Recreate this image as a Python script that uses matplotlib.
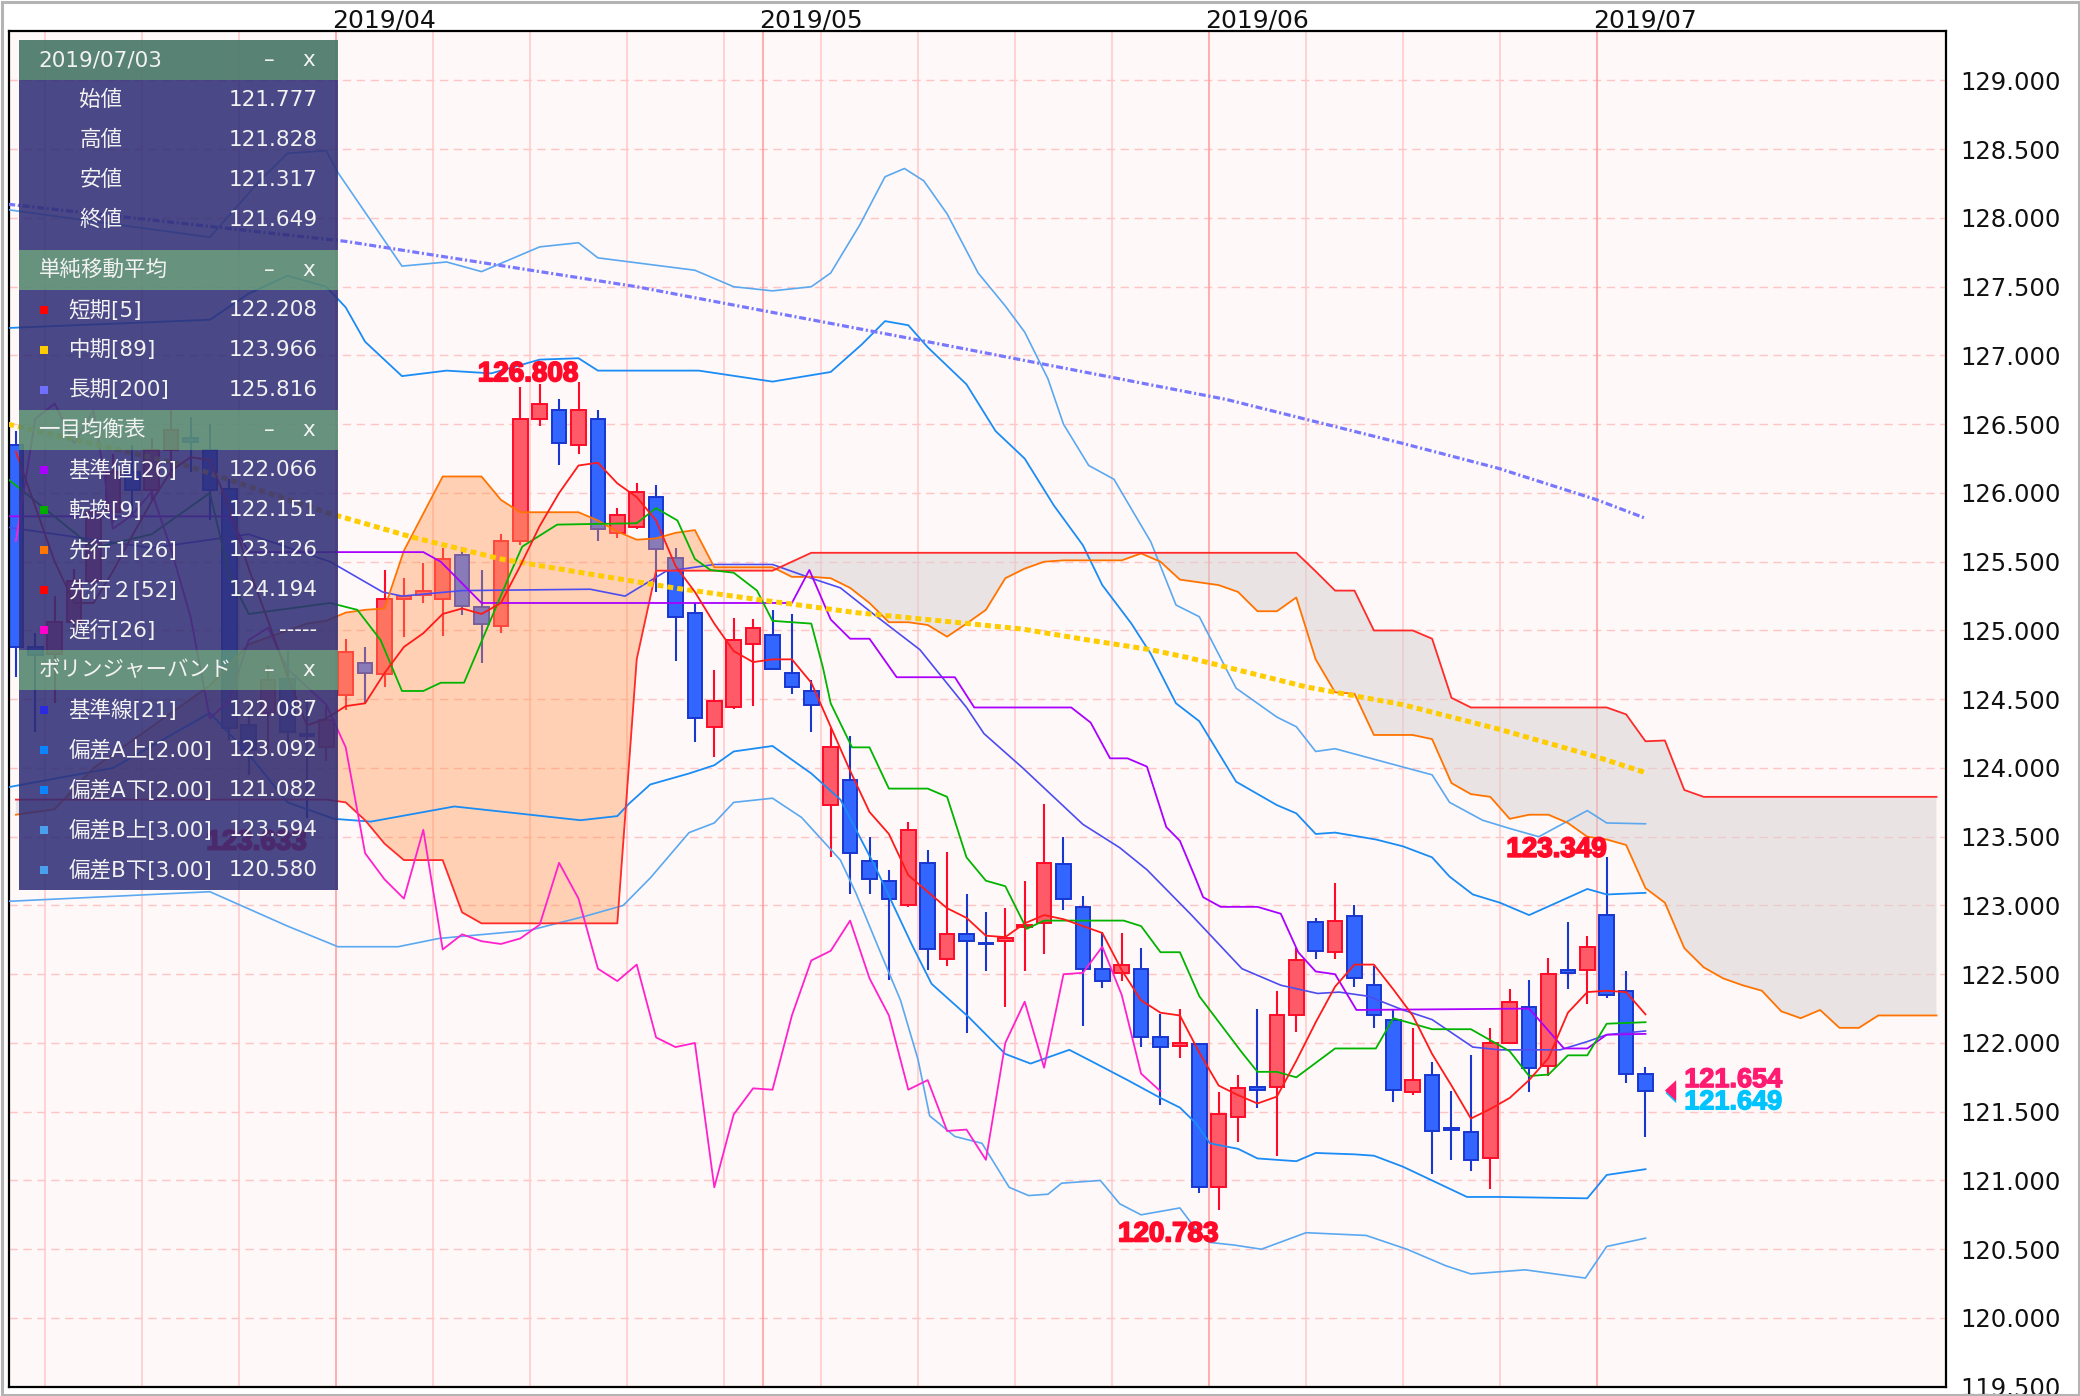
import numpy as np
import matplotlib
matplotlib.use("Agg")
import matplotlib.pyplot as plt
from matplotlib import patheffects
from matplotlib.patches import Rectangle, Polygon

plt.rcParams['font.family'] = ['DejaVu Sans', 'Noto Sans CJK JP']

# ---------------------------------------------------------------- data
# trading day index: 0 = 2019/03/11 (Mon), 82 = 2019/07/03
days = np.arange(-2, 83)

opens = [126.35, 124.88, 124.83, 125.06, 125.36, 125.86, 126.15, 126.02, 126.31, 126.40,
         126.31, 126.03, 124.31, 124.40, 124.65, 124.25, 124.15,
         124.53, 124.76, 124.68, 125.23, 125.26, 125.23, 125.55, 125.17, 125.03, 125.65,
         126.54, 126.60, 126.35, 126.54, 125.71, 125.75, 125.97, 125.53, 125.13, 124.30,
         124.44, 124.90, 124.97, 124.69, 124.56, 123.73, 123.91, 123.32, 123.18, 123.00,
         123.31, 122.61, 122.79, 122.73, 122.74, 122.84, 122.87, 123.30, 122.99, 122.54,
         122.51, 122.54, 122.04, 121.98, 121.99, 120.95, 121.46, 121.68, 121.68, 122.20,
         122.88, 122.66, 122.92, 122.42, 122.17, 121.64, 121.77, 121.38, 121.35, 121.16,
         122.00, 122.26, 121.83, 122.53, 122.53, 122.93, 122.38, 121.777]
highs = [126.45, 124.98, 125.25, 125.45, 125.95, 126.28, 126.35, 126.40, 126.60, 126.55,
         126.50, 126.10, 124.45, 124.75, 124.85, 124.50, 124.45,
         124.94, 124.88, 125.44, 125.38, 125.49, 125.60, 125.61, 125.44, 125.70, 126.77,
         126.79, 126.68, 126.808, 126.60, 125.89, 126.07, 126.06, 125.60, 125.20, 124.71,
         125.09, 125.08, 125.15, 125.12, 124.64, 124.29, 124.23, 123.50, 123.26, 123.61,
         123.40, 123.39, 123.08, 122.95, 122.98, 123.18, 123.74, 123.50, 123.07, 122.81,
         122.80, 122.69, 122.21, 122.25, 122.00, 121.64, 121.77, 122.25, 122.38, 122.69,
         122.91, 123.16, 123.00, 122.56, 122.24, 122.11, 121.86, 121.65, 121.91, 122.11,
         122.39, 122.46, 122.62, 122.88, 122.78, 123.349, 122.52, 121.828]
lows = [124.66, 124.26, 124.47, 124.95, 125.28, 125.78, 125.85, 125.95, 126.10, 126.15,
        125.80, 124.20, 123.95, 124.10, 124.10, 123.633, 124.05,
        124.42, 124.47, 124.59, 124.95, 125.20, 124.96, 125.11, 124.76, 124.98, 125.62,
        126.49, 126.20, 126.28, 125.65, 125.67, 125.74, 125.28, 124.78, 124.19, 124.08,
        124.43, 124.45, 124.71, 124.54, 124.26, 123.35, 123.08, 123.08, 122.46, 122.99,
        122.53, 122.56, 122.07, 122.52, 122.26, 122.52, 122.65, 122.97, 122.12, 122.40,
        122.45, 121.97, 121.55, 121.89, 120.91, 120.783, 121.28, 121.53, 121.18, 122.08,
        122.61, 122.61, 122.41, 122.11, 121.57, 121.62, 121.05, 121.15, 121.07, 120.94,
        121.99, 121.64, 121.76, 122.39, 122.28, 122.33, 121.71, 121.317]
closes = [124.88, 124.82, 125.06, 125.36, 125.86, 126.15, 126.02, 126.31, 126.46, 126.37,
          126.02, 124.29, 124.13, 124.64, 124.26, 124.23, 124.35,
          124.84, 124.69, 125.23, 125.25, 125.29, 125.52, 125.18, 125.05, 125.65, 126.54,
          126.65, 126.36, 126.60, 125.74, 125.84, 126.01, 125.59, 125.10, 124.36, 124.49,
          124.93, 125.02, 124.72, 124.59, 124.46, 124.15, 123.38, 123.19, 123.05, 123.55,
          122.68, 122.79, 122.74, 122.72, 122.76, 122.86, 123.31, 123.05, 122.54, 122.45,
          122.57, 122.04, 121.97, 122.00, 120.95, 121.48, 121.67, 121.66, 122.20, 122.60,
          122.67, 122.89, 122.47, 122.20, 121.66, 121.73, 121.36, 121.37, 121.15, 122.00,
          122.30, 121.82, 122.50, 122.51, 122.70, 122.35, 121.777, 121.649]

sma5 = [126.30, 125.90, 125.50, 125.20, 125.20, 125.43, 125.69, 125.94, 126.16, 126.26,
        126.24, 125.89, 125.45, 125.07, 124.67, 124.31, 124.36,
        124.45, 124.47, 124.69, 124.88, 124.98, 125.12, 125.16, 125.12, 125.20, 125.47,
        125.76, 126.00, 126.20, 126.22, 126.07, 125.97, 125.80, 125.47, 125.28, 125.05,
        124.85, 124.77, 124.79, 124.79, 124.62, 124.30, 123.98, 123.68, 123.52, 123.22,
        123.10, 122.98, 122.91, 122.78, 122.77, 122.87, 122.93, 122.90, 122.85, 122.80,
        122.53, 122.31, 122.22, 122.20, 121.93, 121.69, 121.62, 121.56, 121.61, 121.87,
        122.15, 122.41, 122.57, 122.57, 122.39, 122.20, 121.92, 121.69, 121.45, 121.52,
        121.60, 121.73, 121.89, 122.22, 122.37, 122.38, 122.37, 122.208]

sma89_x = [-2.4, 6.8, 14.2, 18.4, 23, 27.6, 31.9, 36.5, 41.3, 46.4, 49.9, 53.3, 56.5,
           58.5, 64.5, 69.5, 74.5, 79.5, 82]
sma89_y = [126.5, 126.2, 125.85, 125.68, 125.52, 125.41, 125.31, 125.22, 125.13, 125.06,
           125.01, 124.93, 124.86, 124.80, 124.59, 124.46, 124.28, 124.08, 123.966]

sma200_x = [-2.4, 15, 30, 45, 60.4, 69.5, 74.4, 79.5, 82]
sma200_y = [128.1, 127.83, 127.5, 127.1, 126.68, 126.36, 126.18, 125.95, 125.816]

bbm_x = [-2.4, 5, 10, 14.2, 16.9, 17.9, 21, 27.6, 29.4, 31.5, 34, 37, 39, 40.5, 42.2,
         44.6, 47, 47.9, 49.9, 53, 54.9, 56.3, 58.6, 61.2, 63.2, 65.1, 66.2, 67.7, 69.5,
         71, 73.1, 74.5, 77.6, 79, 80, 82]
bbm_y = [125.75, 125.6, 125.7, 125.5, 125.28, 125.25, 125.29, 125.3, 125.25, 125.43,
         125.48, 125.48, 125.38, 125.31, 125.12, 124.86, 124.44, 124.25, 124.0, 123.59,
         123.42, 123.26, 122.93, 122.54, 122.42, 122.36, 122.37, 122.34, 122.24, 122.17,
         121.97, 121.95, 121.95, 122.01, 122.06, 122.087]

bbu2_x = [-2.4, 8, 10, 12, 14, 15, 16, 17.9, 20.2, 22.5, 25, 27, 28, 33.2, 37, 40, 41.6,
          42.8, 44, 45, 47, 48.5, 50, 51.5, 53, 54, 55.5, 56.5, 57.8, 59, 60.9, 63, 64,
          65, 66, 68.1, 69.5, 71, 71.9, 73.1, 74.5, 76, 79, 80, 82]
bbu2_y = [127.2, 127.26, 127.45, 127.58, 127.5, 127.35, 127.1, 126.85, 126.89, 126.87,
          126.97, 126.98, 126.89, 126.89, 126.81, 126.88, 127.08, 127.25, 127.22, 127.06,
          126.79, 126.45, 126.25, 125.91, 125.62, 125.33, 125.05, 124.83, 124.47, 124.34,
          123.9, 123.73, 123.67, 123.52, 123.53, 123.48, 123.43, 123.35, 123.21, 123.08,
          123.02, 122.93, 123.12, 123.08, 123.092]

bbl2_x = [-2.4, 3, 8, 10, 12, 14.4, 16.3, 20.6, 27.1, 29, 29.6, 30.7, 32.7, 34, 35, 37,
          39, 40.5, 42.3, 44.2, 45.2, 47.1, 49, 50.3, 52.3, 53.4, 55.3, 57, 58, 58.8,
          59.55, 61, 62, 64, 65, 67, 68, 69.5, 71, 72.8, 74.5, 79, 80, 82]
bbl2_y = [123.86, 124.0, 124.4, 124.1, 123.75, 123.63, 123.61, 123.72, 123.62, 123.65,
          123.74, 123.88, 123.96, 124.02, 124.12, 124.16, 123.96, 123.77, 123.28, 122.71,
          122.43, 122.19, 121.92, 121.85, 121.95, 121.87, 121.73, 121.6, 121.53, 121.42,
          121.27, 121.23, 121.16, 121.14, 121.2, 121.19, 121.18, 121.1, 121.0, 120.88,
          120.88, 120.87, 121.04, 121.082]

bbu3_x = [-2.4, 8, 10.5, 12, 14, 14.6, 17.9, 20.2, 22, 25, 27, 28, 33, 35, 37, 39, 40,
          41.5, 42.8, 43.8, 44.8, 46, 47.6, 49, 50, 51.2, 52, 53.3, 54.6, 55.6, 56.5,
          57.8, 59, 60.9, 63, 64, 65, 66, 68.1, 71, 71.9, 73.6, 75, 76.5, 79, 80, 82]
bbu3_y = [128.06, 127.86, 128.26, 128.47, 128.49, 128.33, 127.65, 127.68, 127.61, 127.79,
          127.82, 127.71, 127.62, 127.5, 127.47, 127.5, 127.6, 127.95, 128.3, 128.36,
          128.27, 128.03, 127.6, 127.36, 127.17, 126.83, 126.5, 126.2, 126.1, 125.86,
          125.645, 125.185, 125.1, 124.58, 124.37, 124.3, 124.12, 124.14, 124.06, 123.95,
          123.75, 123.62, 123.56, 123.5, 123.69, 123.6, 123.594]

bbl3_x = [-2.4, 8, 12, 14.6, 17.7, 19.8, 24.5, 27.3, 29.3, 30.7, 32.7, 34, 35, 37, 38.5,
          40.5, 41.3, 42.5, 43.6, 44.5, 45.1, 46.4, 47.8, 49.2, 50.2, 51.2, 51.9, 53.9,
          54.9, 56, 58, 58.8, 59.5, 60.8, 62.2, 64.5, 67.6, 69.7, 71.7, 73, 75.8, 78.9,
          80, 82]
bbl3_y = [123.03, 123.1, 122.85, 122.7, 122.7, 122.76, 122.82, 122.92, 123.0, 123.2,
          123.53, 123.6, 123.75, 123.78, 123.64, 123.33, 123.09, 122.68, 122.31, 121.88,
          121.47, 121.32, 121.27, 120.95, 120.89, 120.9, 120.98, 121.0, 120.83, 120.75,
          120.8, 120.65, 120.55, 120.53, 120.5, 120.62, 120.6, 120.5, 120.38, 120.32,
          120.35, 120.29, 120.52, 120.58]

tenkan_x = [-2.4, 2, 5, 8, 9, 10, 14.2, 15.6, 16.8, 17.9, 19, 19.9, 21.1, 23.5, 24.1,
            25.9, 30, 31, 32.1, 33, 33.8, 35, 36.2, 37, 39, 39.6, 40, 41.1, 42, 43, 45,
            46, 47, 48, 49, 50.1, 51, 55.1, 56, 57, 58, 59, 61.2, 62, 63, 64, 66, 68.1,
            69, 71, 73, 75, 76, 77, 78, 79, 80, 82]
tenkan_y = [126.1, 125.6, 125.7, 126.0, 125.4, 125.12, 125.2, 125.15, 124.93, 124.56,
            124.56, 124.62, 124.62, 125.42, 125.61, 125.77, 125.78, 125.89, 125.8, 125.52,
            125.44, 125.42, 125.29, 125.07, 125.05, 124.73, 124.47, 124.15, 124.15, 123.85,
            123.85, 123.79, 123.35, 123.18, 123.14, 122.83, 122.89, 122.89, 122.85, 122.66,
            122.66, 122.34, 121.93, 121.79, 121.79, 121.75, 121.96, 121.96, 122.18, 122.1,
            122.1, 121.94, 121.76, 121.77, 121.91, 121.91, 122.14, 122.151]

kijun_x = [-2.4, 9, 10, 19, 19.9, 22, 38, 38.9, 40, 41, 42, 43.4, 46.4, 47.4, 52.4,
           53.4, 54.4, 55.3, 56.3, 57.3, 58, 58.8, 59.2, 60.1, 62, 63.2, 64.1, 65, 66,
           67.1, 76, 77.8, 79, 80, 82]
kijun_y = [125.83, 125.83, 125.57, 125.57, 125.5, 125.2, 125.2, 125.44, 125.08, 124.94,
           124.94, 124.66, 124.66, 124.44, 124.44, 124.33, 124.07, 124.07, 124.01, 123.57,
           123.47, 123.2, 123.06, 122.99, 122.99, 122.94, 122.66, 122.52, 122.5, 122.24,
           122.25, 121.96, 121.96, 122.06, 122.066]

# leading spans, one value per day from -2 to 97
span_days = np.arange(-2, 98)
senkou_a = [123.66, 123.68, 123.70, 123.85, 124.00, 124.10, 124.20, 124.30, 124.40, 124.50,
            124.60, 124.75, 124.90, 124.95, 125.00, 125.05, 125.07, 125.13, 125.15, 125.16,
            125.58, 125.85, 126.12, 126.12, 126.12, 125.95, 125.86, 125.86, 125.86, 125.86,
            125.80, 125.72, 125.66, 125.67, 125.71, 125.73, 125.46, 125.46, 125.46, 125.46,
            125.39, 125.39, 125.38, 125.31, 125.20, 125.06, 125.06, 125.04, 124.955, 125.05,
            125.15, 125.38, 125.45, 125.50, 125.51, 125.51, 125.51, 125.51, 125.56, 125.50,
            125.37, 125.35, 125.33, 125.28, 125.14, 125.14, 125.24, 124.79, 124.55, 124.54,
            124.24, 124.24, 124.24, 124.21, 123.89, 123.81, 123.79, 123.63, 123.66, 123.66,
            123.60, 123.50, 123.48, 123.44, 123.126, 123.02, 122.69, 122.55, 122.47, 122.42,
            122.38, 122.23, 122.18, 122.24, 122.11, 122.11, 122.20, 122.20, 122.20, 122.20]
senkou_b = [123.77, 123.77, 123.77, 123.77, 123.77, 123.77, 123.77, 123.77, 123.77, 123.77,
            123.77, 123.77, 123.77, 123.77, 123.77, 123.77, 123.77, 123.75, 123.62, 123.45,
            123.33, 123.33, 123.33, 122.95, 122.87, 122.87, 122.87, 122.87, 122.87, 122.87,
            122.87, 122.87, 124.79, 125.435, 125.435, 125.435, 125.435, 125.435, 125.435, 125.435,
            125.50, 125.565, 125.565, 125.565, 125.565, 125.565, 125.565, 125.565, 125.565, 125.565,
            125.565, 125.565, 125.565, 125.565, 125.565, 125.565, 125.565, 125.565, 125.565, 125.565,
            125.565, 125.565, 125.565, 125.565, 125.565, 125.565, 125.565, 125.43, 125.29, 125.29,
            125.00, 125.00, 125.00, 124.94, 124.51, 124.44, 124.44, 124.44, 124.44, 124.44,
            124.44, 124.44, 124.44, 124.39, 124.194, 124.20, 123.84, 123.79, 123.79, 123.79,
            123.79, 123.79, 123.79, 123.79, 123.79, 123.79, 123.79, 123.79, 123.79, 123.79]
chikou_shift = 25

month_lines = [14.5, 36.5, 59.5, 79.5]
month_labels = ['2019/04', '2019/05', '2019/06', '2019/07']
week_lines = [-0.5, 4.5, 9.5, 19.5, 24.5, 29.5, 34.5, 39.5, 44.5, 49.5, 54.5, 64.5, 69.5, 74.5]

peak_labels = [(27, 'high'), (80, 'high'), (60, 'low'), (13, 'low')]
last_bid, last_ask = 121.654, 121.649

panel_date = '2019/07/03'
ohlc_names = ['始値', '高値', '安値', '終値']
ohlc_vals = ['121.777', '121.828', '121.317', '121.649']
sections = [
    ('単純移動平均', [('#ff0000', '短期[5]', '122.208'),
                ('#ffcc00', '中期[89]', '123.966'),
                ('#7070ff', '長期[200]', '125.816')]),
    ('一目均衡表', [('#aa00ff', '基準値[26]', '122.066'),
               ('#00aa00', '転換[9]', '122.151'),
               ('#ff7700', '先行１[26]', '123.126'),
               ('#ff0000', '先行２[52]', '124.194'),
               ('#ff00cc', '遅行[26]', '-----')]),
    ('ボリンジャーバンド', [('#2a2ae0', '基準線[21]', '122.087'),
                   ('#0a84ff', '偏差A上[2.00]', '123.092'),
                   ('#0a84ff', '偏差A下[2.00]', '121.082'),
                   ('#4aa0ee', '偏差B上[3.00]', '123.594'),
                   ('#4aa0ee', '偏差B下[3.00]', '120.580')]),
]

# ---------------------------------------------------------------- figure
W, H = 2080, 1396
AX_L, AX_T, AX_R, AX_B = 9, 31, 1946, 1386.7
fig = plt.figure(figsize=(W / 100, H / 100), dpi=100)
fig.patch.set_facecolor('white')
ax = fig.add_axes([AX_L / W, 1 - AX_B / H, (AX_R - AX_L) / W, (AX_B - AX_T) / H])
ax.set_facecolor('#fff8f8')
ax.set_xlim(-2.356, 97.49)
ax.set_ylim(119.5, 129.36)
for s in ax.spines.values():
    s.set_linewidth(1.6)
    s.set_color('black')

# grid
for v in np.arange(120.0, 129.01, 0.5):
    ax.axhline(v, color='#ffc4c4', lw=1.0, ls=(0, (6, 4)), zorder=0)
for d in week_lines:
    ax.axvline(d, color='#ffc8c8', lw=1.1, zorder=0)
for d in month_lines:
    ax.axvline(d, color='#ff9a9a', lw=1.1, zorder=0)

ax.set_xticks([])
ax.yaxis.tick_right()
ax.set_yticks(np.arange(119.5, 129.01, 0.5))
ax.set_yticklabels(['%.3f' % v for v in np.arange(119.5, 129.01, 0.5)])
ax.tick_params(axis='y', length=0, pad=10, labelsize=17.5, labelcolor='#111111')

for d, lab in zip(month_lines, month_labels):
    ax.annotate(lab, xy=(d, 1.0), xycoords=('data', 'axes fraction'),
                xytext=(-2.5, 2.5), textcoords='offset points',
                ha='left', va='baseline', fontsize=18, color='#111111',
                annotation_clip=False)

# candles
o = np.array(opens); h = np.array(highs); l = np.array(lows); c = np.array(closes)
up = c >= o
fill = np.where(up, '#ff5a68', '#3366ff')
edge = np.where(up, '#ff0a28', '#1836d0')
ax.vlines(days, l, h, colors=edge, lw=1.5, zorder=2)
ax.bar(days, np.maximum(np.abs(c - o), 0.008), bottom=np.minimum(o, c), width=0.76,
       color=fill, edgecolor=edge, linewidth=1.4, zorder=2.5)

# cloud
sa = np.array(senkou_a); sb = np.array(senkou_b)
ax.fill_between(span_days, sa, sb, where=sa >= sb, interpolate=True,
                color='#ff9955', alpha=0.42, lw=0, zorder=3)
ax.fill_between(span_days, sa, sb, where=sa < sb, interpolate=True,
                color='#d6d0d0', alpha=0.5, lw=0, zorder=3)

# indicator lines
ax.plot(bbu3_x, bbu3_y, color='#5aa8f0', lw=1.2, zorder=4)
ax.plot(bbl3_x, bbl3_y, color='#5aa8f0', lw=1.2, zorder=4)
ax.plot(bbu2_x, bbu2_y, color='#1a8cf5', lw=1.3, zorder=4)
ax.plot(bbl2_x, bbl2_y, color='#1a8cf5', lw=1.3, zorder=4)
ax.plot(bbm_x, bbm_y, color='#4c4cf0', lw=1.2, zorder=4)
ax.plot(span_days, sa, color='#ff7300', lw=1.3, zorder=4)
ax.plot(span_days, sb, color='#ff2a2a', lw=1.3, zorder=4)
ax.plot(kijun_x, kijun_y, color='#aa00ff', lw=1.3, zorder=4)
ax.plot(tenkan_x, tenkan_y, color='#00b400', lw=1.3, zorder=4)
ax.plot(days[:-chikou_shift], c[chikou_shift:], color='#ff22cc', lw=1.3, zorder=4)
ax.plot(sma89_x, sma89_y, color='#ffcc00', lw=3.6, ls=(0, (1.2, 0.8)),
        dash_capstyle='butt', zorder=4.5)
ax.plot(sma200_x, sma200_y, color='#7878ff', lw=2.3, ls=(0, (2.2, 0.85, 0.65, 0.85)),
        dash_capstyle='butt', zorder=4.5)
ax.plot(days, sma5, color='#ff1a1a', lw=1.3, zorder=4.6)

# high / low labels
RED = '#ff0a28'
thick = [patheffects.withStroke(linewidth=1.3, foreground=RED)]
for d, kind in peak_labels:
    i = int(np.where(days == d)[0][0])
    if kind == 'high':
        ax.annotate('%.3f' % h[i], xy=(d, h[i]), xytext=(0, 0.5), textcoords='offset points',
                    ha='right', va='baseline', fontsize=20, fontweight='bold',
                    family='Liberation Sans', color=RED, path_effects=thick, zorder=6)
    else:
        ax.annotate('%.3f' % l[i], xy=(d, l[i]), xytext=(0, -8), textcoords='offset points',
                    ha='right', va='top', fontsize=20, fontweight='bold',
                    family='Liberation Sans', color=RED, path_effects=thick, zorder=6)

# last price markers
tip = days[-1] + 1.0
for price, col, dy in [(last_ask, '#00c4ff', -0.012), (last_bid, '#ff1a72', 0.0)]:
    ax.add_patch(Polygon([(tip + (0.03 if dy else 0), price + dy),
                          (tip + 0.58, price + dy + 0.075),
                          (tip + 0.58, price + dy - 0.075)],
                         closed=True, fc=col, ec='none', zorder=6))
for price, col, off in [(last_bid, '#ff1a72', 7.5), (last_ask, '#00c4ff', -8)]:
    ax.annotate('%.3f' % price, xy=(tip + 1.0, price), xytext=(0, off),
                textcoords='offset points', ha='left', va='center', fontsize=19.5,
                fontweight='bold', family='Liberation Sans', color=col,
                path_effects=[patheffects.withStroke(linewidth=1.0, foreground=col)],
                zorder=6)

# ---------------------------------------------------------------- info panel
pax = fig.add_axes([0, 0, 1, 1], zorder=10)
pax.set_xlim(0, W)
pax.set_ylim(H, 0)
pax.axis('off')
pax.patch.set_alpha(0)

PX0, PX1, ROW = 18.5, 338, 40
TXT = '#f2f2f2'
BODY = '#312f76'
FS = 15.5


def header(y, title, col):
    pax.add_patch(Rectangle((PX0, y), PX1 - PX0, ROW, fc=col, ec='none', alpha=0.92))
    pax.text(PX0 + 20, y + ROW / 2, title, color=TXT, fontsize=FS, ha='left', va='center')
    pax.text(PX0 + 251, y + ROW / 2, '–', color=TXT, fontsize=FS, ha='center', va='center')
    pax.text(PX0 + 290, y + ROW / 2, 'x', color=TXT, fontsize=FS, ha='center', va='center')


def body(y, hgt):
    pax.add_patch(Rectangle((PX0, y), PX1 - PX0, hgt, fc=BODY, ec='none', alpha=0.88))


y = 40
header(y, panel_date, '#4a7868')
y += ROW
body(y, ROW * len(ohlc_names) + 10)
for name, val in zip(ohlc_names, ohlc_vals):
    pax.text(PX0 + 61, y + ROW / 2, name, color=TXT, fontsize=FS, ha='left', va='center')
    pax.text(PX0 + 299, y + ROW / 2, val, color=TXT, fontsize=FS, ha='right', va='center')
    y += ROW
y += 10
for title, rows in sections:
    header(y, title, '#5a8a74')
    y += ROW
    body(y, ROW * len(rows))
    for col, name, val in rows:
        pax.add_patch(Rectangle((PX0 + 21.5, y + ROW / 2 - 4), 8, 8, fc=col, ec='none'))
        pax.text(PX0 + 50, y + ROW / 2, name, color=TXT, fontsize=FS, ha='left', va='center')
        pax.text(PX0 + 299, y + ROW / 2, val, color=TXT, fontsize=FS, ha='right', va='center')
        y += ROW

# outer grey frame of the picture
pax.add_patch(Rectangle((1.5, 1.5), W - 3, H - 3, fc='none', ec='#b4b4b4', lw=2.2))

fig.savefig('out.png', dpi=100, facecolor='white')
